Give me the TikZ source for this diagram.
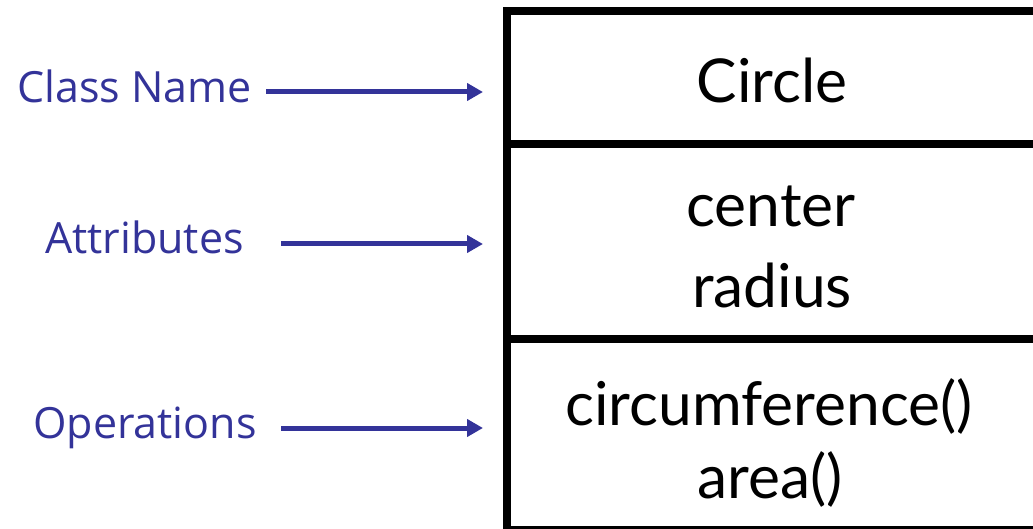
\documentclass[tikz,border=0pt]{standalone}
\usepackage{fontspec}
\setmainfont{Lato}
\newfontfamily\labelfont{Open Sans}
\usetikzlibrary{arrows.meta}
\definecolor{lblue}{HTML}{333399}
\tikzset{
  lbl/.style={font=\labelfont\fontsize{43}{50}\selectfont, text=lblue, anchor=base west, inner sep=0pt},
  txt/.style={font=\fontsize{60.5}{70}\selectfont, anchor=base, inner sep=0pt},
  arr/.style={draw=lblue, line width=5pt, -{Triangle[length=16pt,width=17pt]}},
  boxline/.style={line width=8pt, draw=black}
}
\begin{document}
\begin{tikzpicture}[x=1pt,y=-1pt]
\useasboundingbox (0,0) rectangle (1033,529);
\begin{scope}
\clip (0,0) rectangle (1033,529);
\draw[boxline] (506.5,11) rectangle (1040,530);
\draw[boxline] (506.5,144) -- (1040,144);
\draw[boxline] (506.5,339) -- (1040,339);
\end{scope}
\node[txt] (cname) at (772,103) {Circle};
\node[txt] (att1) at (771,227) {center};
\node[txt] (att2) at (772,308) {radius};
\node[txt] (op1) at (769,425) {circumference()};
\node[txt] (op2) at (770,498) {area()};
\node[lbl] (lcn) at (17,103) {Class Name};
\node[lbl] (lat) at (45,254) {Attributes};
\node[lbl] (lop) at (33,438) {Operations};
\coordinate (s1) at (266,92);
\coordinate (e1) at (483,92);
\coordinate (s2) at (281,244);
\coordinate (e2) at (483,244);
\coordinate (s3) at (281,428);
\coordinate (e3) at (483,428);
\draw[arr] (s1) -- (e1);
\draw[arr] (s2) -- (e2);
\draw[arr] (s3) -- (e3);
\end{tikzpicture}
\end{document}
